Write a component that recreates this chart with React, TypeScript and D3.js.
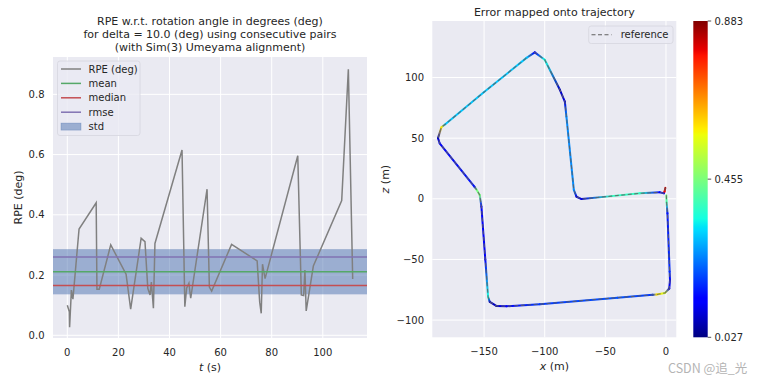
import { useEffect, useRef } from 'react';
import * as d3 from 'd3';

// RPE (deg) vs time (s)
const rpeTimes = [0, 0.8, 0.9, 1.6, 2.2, 4.6, 11.3, 11.6, 12.5, 17.0, 23.0, 24.8, 28.9, 30.4, 31.5, 32.4, 32.9, 33.7, 34.3, 44.9, 46.0, 46.7, 47.6, 48.3, 54.7, 55.6, 56.5, 64.3, 74.3, 75.3, 75.9, 76.4, 77.4, 90.2, 91.6, 92.5, 93.0, 93.5, 96.3, 107.4, 110.0, 111.7];
const rpeValues = [0.10, 0.078, 0.027, 0.15, 0.12, 0.353, 0.44, 0.153, 0.153, 0.30, 0.203, 0.087, 0.322, 0.311, 0.156, 0.134, 0.177, 0.09, 0.305, 0.615, 0.095, 0.156, 0.173, 0.123, 0.485, 0.16, 0.147, 0.302, 0.247, 0.11, 0.073, 0.236, 0.188, 0.596, 0.134, 0.132, 0.217, 0.081, 0.23, 0.447, 0.883, 0.187];

// summary statistics drawn as horizontal lines / band
const statLabels = ['mean', 'median', 'rmse'];
const statValues = [0.211, 0.165, 0.26];
const rpeStd = 0.075;

// trajectory in the x-z plane (m) and the error colour along it
const trajX = [0.3, 0.5, 1.2, 3.0, 3.3, 2.7, -0.8, -7.7, -11, -40, -104, -131.6, -139.9, -145.3, -146.7, -149, -152.2, -153.6, -156.4, -158, -186.6, -188, -185.2, -182, -150, -115, -108.2, -100, -87.5, -83.4, -82.1, -76, -73.8, -69.6, -45, -21.5, -5, -1.7, -1.2, -0.5];
const trajZ = [3.0, -3, -12, -60, -67, -74, -77.6, -78.9, -79.2, -81.5, -86.9, -88.6, -88.3, -85, -80.8, -50, -6.5, 3.1, 7.8, 10, 45.8, 50, 59, 61.5, 88, 116.2, 120.7, 114.7, 89.9, 80.2, 67.8, 7.3, 1.7, -0.2, 2.2, 4.5, 5.3, 4.5, 6, 9];
const trajErr = [0.45, 0.4, 0.15, 0.17, 0.12, 0.1, 0.55, 0.6, 0.18, 0.2, 0.18, 0.12, 0.08, 0.08, 0.35, 0.12, 0.12, 0.45, 0.45, 0.15, 0.12, 0.08, 0.6, 0.3, 0.3, 0.3, 0.12, 0.35, 0.08, 0.1, 0.25, 0.25, 0.1, 0.1, 0.38, 0.38, 0.12, 0.12, 0.8, 0.85];

const leftXTicks = [0, 20, 40, 60, 80, 100];
const leftYTicks = [0, 0.2, 0.4, 0.6, 0.8];
const rightXTicks = [-150, -100, -50, 0];
const rightYTicks = [-100, -50, 0, 50, 100];
const cbarTicks = [0.027, 0.455, 0.883];
const legendLabels = ['RPE (deg)', 'mean', 'median', 'rmse', 'std'];
const titleLines = [
  'RPE w.r.t. rotation angle in degrees (deg)',
  'for delta = 10.0 (deg) using consecutive pairs',
  '(with Sim(3) Umeyama alignment)',
];

// matplotlib "jet"
const jetStops = [0, 0.11, 0.125, 0.34, 0.35, 0.375, 0.64, 0.65, 0.66, 0.89, 0.91, 1];
const jetColors = ['#000080', '#0000ff', '#0000ff', '#00dbff', '#00e5f7', '#14ffe2', '#eeff08', '#f7f500', '#ffec00', '#ff1300', '#e80000', '#800000'];

const App = () => {
  const ref = useRef<SVGSVGElement>(null);

  useEffect(() => {
    const svg = d3.select(ref.current);
    svg.selectAll('*').remove();

    const font = 'DejaVu Sans, sans-serif';
    const ink = '#262626';
    const face = '#eaeaf2';
    const pal = { gray: '#808080', mean: '#55a868', median: '#c44e52', rmse: '#8172b2', std: '#4c72b0' };

    // ---------- left: RPE over time ----------
    const lm = { left: 53, right: 367, top: 57, bottom: 338 };
    const x = d3.scaleLinear().domain([-5.6, 117.3]).range([lm.left, lm.right]);
    const y = d3.scaleLinear().domain([-0.009, 0.924]).range([lm.bottom, lm.top]);

    const gl = svg.append('g');
    gl.append('rect')
      .attr('x', lm.left)
      .attr('y', lm.top)
      .attr('width', lm.right - lm.left)
      .attr('height', lm.bottom - lm.top)
      .attr('fill', face);

    gl.selectAll('line.gx')
      .data(leftXTicks)
      .join('line')
      .attr('x1', (d) => x(d))
      .attr('x2', (d) => x(d))
      .attr('y1', lm.top)
      .attr('y2', lm.bottom)
      .attr('stroke', '#fff')
      .attr('stroke-width', 1);
    gl.selectAll('line.gy')
      .data(leftYTicks)
      .join('line')
      .attr('x1', lm.left)
      .attr('x2', lm.right)
      .attr('y1', (d) => y(d))
      .attr('y2', (d) => y(d))
      .attr('stroke', '#fff')
      .attr('stroke-width', 1);

    // std band around the mean
    gl.append('rect')
      .attr('x', lm.left)
      .attr('width', lm.right - lm.left)
      .attr('y', y(statValues[0] + rpeStd))
      .attr('height', y(statValues[0] - rpeStd) - y(statValues[0] + rpeStd))
      .attr('fill', pal.std)
      .attr('fill-opacity', 0.5);

    const line = d3
      .line<number>()
      .x((_, i) => x(rpeTimes[i]))
      .y((d) => y(d));
    gl.append('path')
      .attr('d', line(rpeValues))
      .attr('fill', 'none')
      .attr('stroke', pal.gray)
      .attr('stroke-width', 1.5);

    const statColors = [pal.mean, pal.median, pal.rmse];
    gl.selectAll('line.stat')
      .data(statValues)
      .join('line')
      .attr('x1', lm.left)
      .attr('x2', lm.right)
      .attr('y1', (d) => y(d))
      .attr('y2', (d) => y(d))
      .attr('stroke', (_, i) => statColors[i])
      .attr('stroke-width', 1.5);

    gl.selectAll('text.tx')
      .data(leftXTicks)
      .join('text')
      .attr('x', (d) => x(d))
      .attr('y', 355.5)
      .attr('text-anchor', 'middle')
      .attr('font-size', 10)
      .attr('font-family', font)
      .attr('fill', ink)
      .text((d) => d);
    gl.selectAll('text.ty')
      .data(leftYTicks)
      .join('text')
      .attr('x', 44.5)
      .attr('y', (d) => y(d))
      .attr('dy', '0.36em')
      .attr('text-anchor', 'end')
      .attr('font-size', 10)
      .attr('font-family', font)
      .attr('fill', ink)
      .text((d) => d3.format('.1f')(d));

    const xl = gl.append('text')
      .attr('x', (lm.left + lm.right) / 2)
      .attr('y', 370.5)
      .attr('text-anchor', 'middle')
      .attr('font-size', 11)
      .attr('font-family', font)
      .attr('fill', ink);
    xl.append('tspan').attr('font-style', 'italic').text('t');
    xl.append('tspan').text(' (s)');

    gl.append('text')
      .attr('transform', `translate(21.5,${(lm.top + lm.bottom) / 2}) rotate(-90)`)
      .attr('text-anchor', 'middle')
      .attr('font-size', 11)
      .attr('font-family', font)
      .attr('fill', ink)
      .text('RPE (deg)');

    gl.selectAll('text.title')
      .data(titleLines)
      .join('text')
      .attr('x', (lm.left + lm.right) / 2)
      .attr('y', (_, i) => 24.5 + i * 13.2)
      .attr('text-anchor', 'middle')
      .attr('font-size', 11)
      .attr('font-family', font)
      .attr('fill', ink)
      .text((d) => d);

    // legend
    const lg = gl.append('g');
    lg.append('rect')
      .attr('x', 57.5)
      .attr('y', 61)
      .attr('width', 82.5)
      .attr('height', 74.5)
      .attr('rx', 2.5)
      .attr('fill', face)
      .attr('fill-opacity', 0.8)
      .attr('stroke', '#d6d6de')
      .attr('stroke-width', 0.8);
    const legColors = [pal.gray, pal.mean, pal.median, pal.rmse, pal.std];
    legendLabels.forEach((label, i) => {
      const ly = 69 + i * 14.4;
      if (label === 'std') {
        lg.append('rect')
          .attr('x', 61)
          .attr('y', ly - 3.5)
          .attr('width', 20)
          .attr('height', 7)
          .attr('fill', pal.std)
          .attr('fill-opacity', 0.5)
          .attr('stroke', pal.std)
          .attr('stroke-opacity', 0.5)
          .attr('stroke-width', 0.6);
      } else {
        lg.append('line')
          .attr('x1', 61)
          .attr('x2', 81)
          .attr('y1', ly)
          .attr('y2', ly)
          .attr('stroke', legColors[i])
          .attr('stroke-width', 1.5);
      }
      lg.append('text')
        .attr('x', 88.5)
        .attr('y', ly)
        .attr('dy', '0.36em')
        .attr('font-size', 10)
        .attr('font-family', font)
        .attr('fill', ink)
        .text(label);
    });

    // ---------- right: trajectory ----------
    const rm = { left: 432.3, right: 676.3, top: 21, bottom: 337.3 };
    const xr = d3.scaleLinear().domain([-192.7, 8.5]).range([rm.left, rm.right]);
    const yr = d3.scaleLinear().domain([-114.2, 146.6]).range([rm.bottom, rm.top]);
    const norm = d3.scaleLinear().domain([cbarTicks[0], cbarTicks[2]]).range([0, 1]).clamp(true);
    const jet = d3.scaleLinear<string>().domain(jetStops).range(jetColors).interpolate(d3.interpolateRgb);

    const gr = svg.append('g');
    gr.append('rect')
      .attr('x', rm.left)
      .attr('y', rm.top)
      .attr('width', rm.right - rm.left)
      .attr('height', rm.bottom - rm.top)
      .attr('fill', face);
    gr.selectAll('line.gx')
      .data(rightXTicks)
      .join('line')
      .attr('x1', (d) => xr(d))
      .attr('x2', (d) => xr(d))
      .attr('y1', rm.top)
      .attr('y2', rm.bottom)
      .attr('stroke', '#fff');
    gr.selectAll('line.gy')
      .data(rightYTicks)
      .join('line')
      .attr('x1', rm.left)
      .attr('x2', rm.right)
      .attr('y1', (d) => yr(d))
      .attr('y2', (d) => yr(d))
      .attr('stroke', '#fff');

    const defs = svg.append('defs');
    const segs = d3.range(trajX.length - 1);
    segs.forEach((i) => {
      const grad = defs.append('linearGradient')
        .attr('id', `seg${i}`)
        .attr('gradientUnits', 'userSpaceOnUse')
        .attr('x1', xr(trajX[i]))
        .attr('y1', yr(trajZ[i]))
        .attr('x2', xr(trajX[i + 1]))
        .attr('y2', yr(trajZ[i + 1]));
      grad.append('stop').attr('offset', 0).attr('stop-color', jet(norm(trajErr[i])));
      grad.append('stop').attr('offset', 1).attr('stop-color', jet(norm(trajErr[i + 1])));
    });

    gr.selectAll('line.seg')
      .data(segs)
      .join('line')
      .attr('x1', (i) => xr(trajX[i]))
      .attr('y1', (i) => yr(trajZ[i]))
      .attr('x2', (i) => xr(trajX[i + 1]))
      .attr('y2', (i) => yr(trajZ[i + 1]))
      .attr('stroke', (i) => `url(#seg${i})`)
      .attr('stroke-width', 2)
      .attr('stroke-linecap', 'round');

    const trajLine = d3
      .line<number>()
      .x((d) => xr(trajX[d]))
      .y((d) => yr(trajZ[d]));
    gr.append('path')
      .attr('d', trajLine(d3.range(trajX.length)))
      .attr('fill', 'none')
      .attr('stroke', '#606060')
      .attr('stroke-opacity', 0.85)
      .attr('stroke-width', 1.1)
      .attr('stroke-dasharray', '4 2.5');

    gr.selectAll('text.tx')
      .data(rightXTicks)
      .join('text')
      .attr('x', (d) => xr(d))
      .attr('y', 354.5)
      .attr('text-anchor', 'middle')
      .attr('font-size', 10)
      .attr('font-family', font)
      .attr('fill', ink)
      .text((d) => d3.format('d')(d));
    gr.selectAll('text.ty')
      .data(rightYTicks)
      .join('text')
      .attr('x', 424)
      .attr('y', (d) => yr(d))
      .attr('dy', '0.36em')
      .attr('text-anchor', 'end')
      .attr('font-size', 10)
      .attr('font-family', font)
      .attr('fill', ink)
      .text((d) => d3.format('d')(d));

    const xlr = gr.append('text')
      .attr('x', (rm.left + rm.right) / 2)
      .attr('y', 369.5)
      .attr('text-anchor', 'middle')
      .attr('font-size', 11)
      .attr('font-family', font)
      .attr('fill', ink);
    xlr.append('tspan').attr('font-style', 'italic').text('x');
    xlr.append('tspan').text(' (m)');

    const zl = gr.append('text')
      .attr('transform', `translate(389,${(rm.top + rm.bottom) / 2}) rotate(-90)`)
      .attr('text-anchor', 'middle')
      .attr('font-size', 11)
      .attr('font-family', font)
      .attr('fill', ink);
    zl.append('tspan').attr('font-style', 'italic').text('z');
    zl.append('tspan').text(' (m)');

    gr.append('text')
      .attr('x', (rm.left + rm.right) / 2)
      .attr('y', 15.5)
      .attr('text-anchor', 'middle')
      .attr('font-size', 11)
      .attr('font-family', font)
      .attr('fill', ink)
      .text('Error mapped onto trajectory');

    // reference legend
    gr.append('rect')
      .attr('x', 588.7)
      .attr('y', 26)
      .attr('width', 84.3)
      .attr('height', 17.5)
      .attr('rx', 2.5)
      .attr('fill', face)
      .attr('fill-opacity', 0.8)
      .attr('stroke', '#d6d6de')
      .attr('stroke-width', 0.8);
    gr.append('line')
      .attr('x1', 591.5)
      .attr('x2', 611.5)
      .attr('y1', 34.7)
      .attr('y2', 34.7)
      .attr('stroke', '#606060')
      .attr('stroke-width', 1.1)
      .attr('stroke-dasharray', '4 2.5');
    gr.append('text')
      .attr('x', 620.7)
      .attr('y', 34.7)
      .attr('dy', '0.36em')
      .attr('font-size', 10)
      .attr('font-family', font)
      .attr('fill', ink)
      .text('reference');

    // colorbar
    const cb = { left: 693.3, right: 707.7, top: 21, bottom: 337.3 };
    const cgrad = defs.append('linearGradient')
      .attr('id', 'jetbar')
      .attr('x1', 0)
      .attr('y1', 1)
      .attr('x2', 0)
      .attr('y2', 0);
    jetStops.forEach((s, i) => {
      cgrad.append('stop').attr('offset', s).attr('stop-color', jetColors[i]);
    });
    gr.append('rect')
      .attr('x', cb.left)
      .attr('y', cb.top)
      .attr('width', cb.right - cb.left)
      .attr('height', cb.bottom - cb.top)
      .attr('fill', 'url(#jetbar)');
    const yc = d3.scaleLinear().domain([cbarTicks[0], cbarTicks[2]]).range([cb.bottom, cb.top]);
    gr.selectAll('line.ct')
      .data(cbarTicks)
      .join('line')
      .attr('x1', cb.right)
      .attr('x2', cb.right + 3.5)
      .attr('y1', (d) => yc(d))
      .attr('y2', (d) => yc(d))
      .attr('stroke', ink)
      .attr('stroke-width', 0.8);
    gr.selectAll('text.ct')
      .data(cbarTicks)
      .join('text')
      .attr('x', 714.5)
      .attr('y', (d) => yc(d))
      .attr('dy', '0.36em')
      .attr('font-size', 10)
      .attr('font-family', font)
      .attr('fill', ink)
      .text((d) => d3.format('.3f')(d));

    // watermark
    svg.append('text')
      .attr('x', 668)
      .attr('y', 373)
      .attr('font-size', 12.5)
      .attr('font-family', 'Noto Sans CJK SC, sans-serif')
      .attr('fill', '#b4b4b4')
      .text('CSDN @追_光');
  }, []);

  return (
    <svg
      ref={ref}
      width={764}
      height={384}
      style={{ position: 'absolute', left: 0, top: 0, background: '#fff' }}
    ></svg>
  );
};

export default App;
